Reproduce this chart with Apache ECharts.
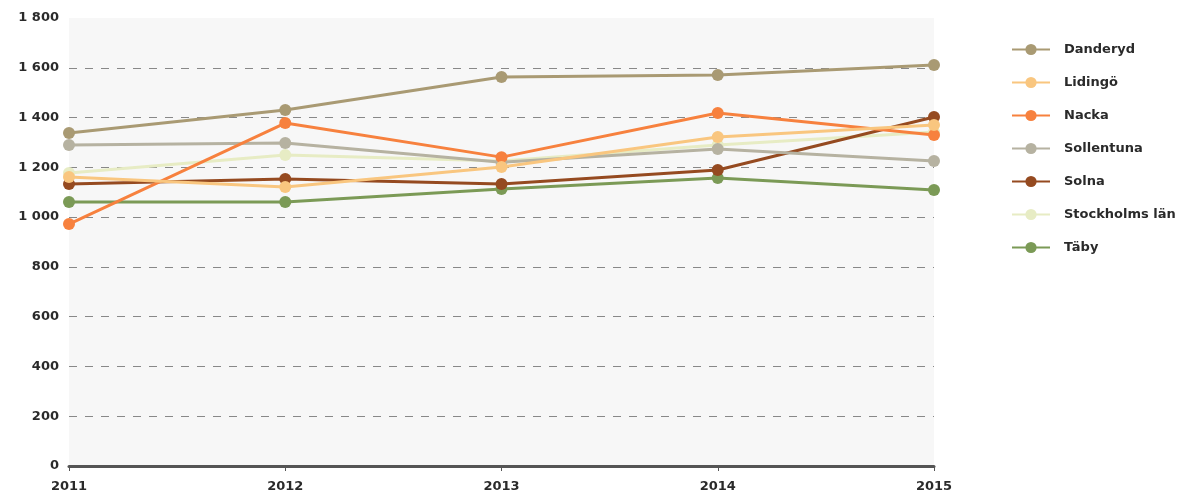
<!DOCTYPE html>
<html>
<head>
<meta charset="utf-8">
<script src="https://cdn.jsdelivr.net/npm/echarts@6/dist/echarts.min.js"></script>
<style>
  html, body { margin: 0; padding: 0; background: #fff; }
  #chart { width: 1194px; height: 497px; }
</style>
</head>
<body>
<div id="chart"></div>
<script>
// years on the x axis
const years = ['2011', '2012', '2013', '2014', '2015'];

// values
const danderyd = [1338, 1430, 1563, 1571, 1611];
const lidingo = [1161, 1121, 1201, 1322, 1370];
const nacka = [972, 1378, 1241, 1418, 1330];
const sollentuna = [1290, 1298, 1220, 1274, 1225];
const solna = [1133, 1153, 1133, 1189, 1402];
const stockholmsLan = [1177, 1250, 1225, 1290, 1342];
const taby = [1061, 1061, 1113, 1157, 1109];

const names = ['Danderyd', 'Lidingö', 'Nacka', 'Sollentuna', 'Solna', 'Stockholms län', 'Täby'];
const colors = ['#a99a73', '#f9c67f', '#f7813e', '#b6b2a1', '#954a20', '#e7ecc4', '#7b9a56'];
const values = [danderyd, lidingo, nacka, sollentuna, solna, stockholmsLan, taby];

const font = 'DejaVu Sans';

const chart = echarts.init(document.getElementById('chart'));

chart.setOption({
    animation: false,
    textStyle: { fontFamily: font },
    grid: {
        left: 69, right: 260, top: 18, bottom: 31,
        show: true, backgroundColor: '#f7f7f7', borderWidth: 0
    },
    legend: {
        orient: 'vertical',
        left: 1006, top: 38,
        itemGap: 20,
        itemWidth: 38, itemHeight: 14,
        textStyle: { fontFamily: font, fontSize: 13, fontWeight: 'bold', color: '#2a2a2a', padding: [0, 0, 0, 9] },
        data: names
    },
    xAxis: {
        type: 'category',
        data: years,
        boundaryGap: false,
        axisLine: { lineStyle: { color: '#555', width: 3 } },
        axisTick: { length: 5, lineStyle: { color: '#555', width: 1 } },
        axisLabel: {
            color: '#2a2a2a', fontSize: 13, fontWeight: 'bold', fontFamily: font, margin: 14,
            showMinLabel: true, showMaxLabel: true
        },
        splitLine: { show: false }
    },
    yAxis: {
        type: 'value',
        min: 0, max: 1800, interval: 200,
        axisLine: { show: false },
        axisTick: { show: false },
        axisLabel: {
            color: '#2a2a2a', fontSize: 13, fontWeight: 'bold', fontFamily: font, margin: 10,
            formatter: v => String(v).replace(/\B(?=(\d{3})+(?!\d))/g, ' ')
        },
        splitLine: {
            lineStyle: { color: '#888', type: [8, 8], width: 1 },
            showMaxLine: false
        }
    },
    series: names.map((name, i) => ({
        name: name,
        type: 'line',
        data: values[i],
        symbol: 'circle',
        symbolSize: 12,
        color: colors[i],
        lineStyle: { width: 3, color: colors[i] },
        itemStyle: { color: colors[i] },
        z: 10 - i
    }))
});
</script>
</body>
</html>
